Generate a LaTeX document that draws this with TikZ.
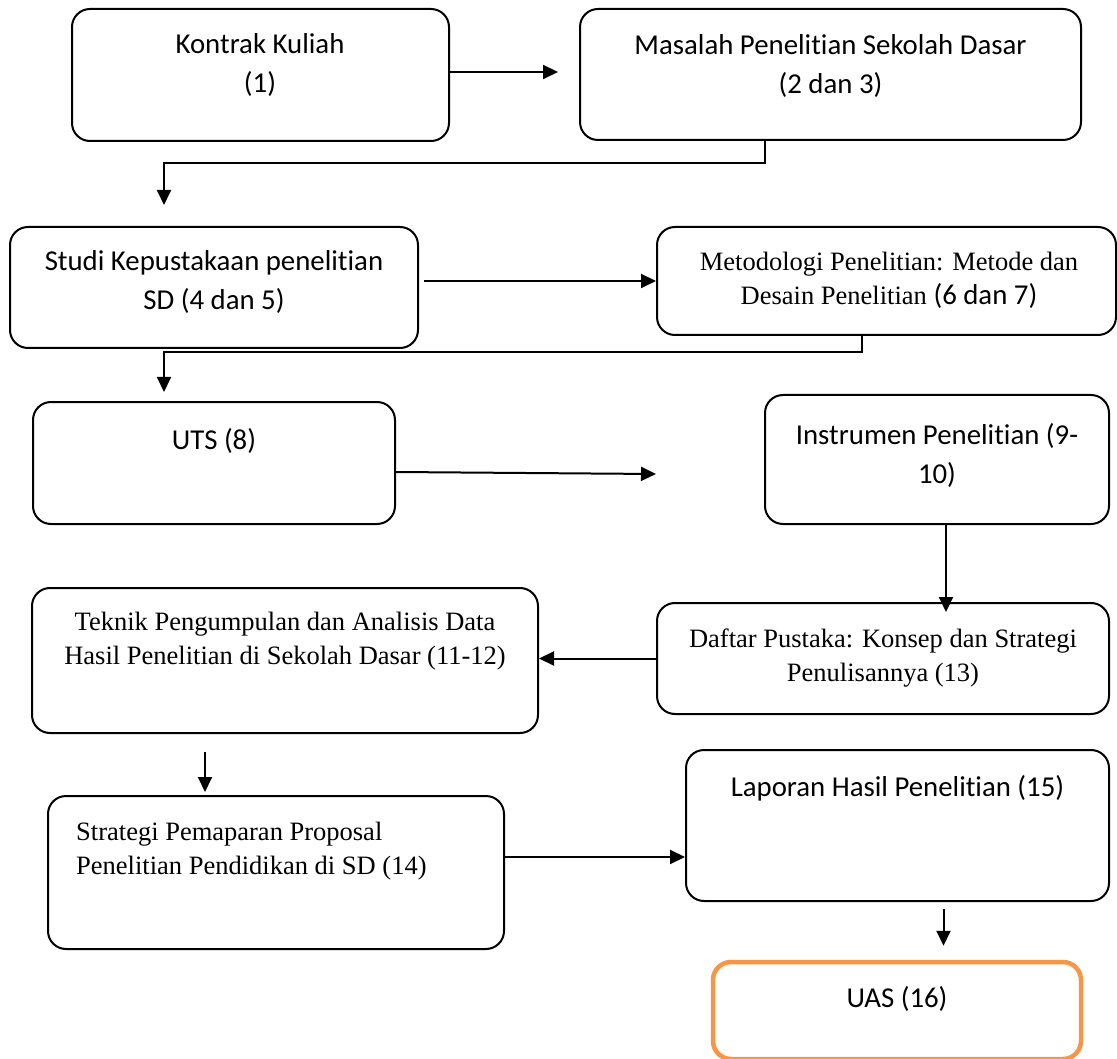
\documentclass[tikz,border=0pt]{standalone}
\usepackage{fontspec}
\setmainfont{Carlito}[Ligatures={NoCommon,NoContextual}, Contextuals=NoAlternate]
\newfontfamily\timesfont{Liberation Serif}
\usetikzlibrary{arrows.meta}

\definecolor{uasorange}{RGB}{247,150,70}

\tikzset{
  box/.style={draw, rounded corners=18pt, line width=2pt, inner sep=0pt},
  sans/.style={font=\fontsize{28.8}{39}\selectfont, align=center, inner sep=0pt},
  serif/.style={font=\timesfont\fontsize{26.5}{34}\selectfont, align=center, inner sep=0pt},
  arr/.style={line width=2pt, -{Triangle[length=15pt,width=14pt]}},
}

\begin{document}
\begin{tikzpicture}[x=1pt, y=-1pt]
\useasboundingbox (0,0) rectangle (1117,1059);

% Boxes
\node[box, minimum width=377pt, minimum height=132pt] (kontrak) at (260.5,75) {};
\node[box, minimum width=501pt, minimum height=131pt] (masalah) at (830.5,74.5) {};
\node[box, minimum width=408pt, minimum height=121pt] (studi) at (214,287.5) {};
\node[box, minimum width=459pt, minimum height=108pt] (metode) at (886.5,281) {};
\node[box, minimum width=362pt, minimum height=122pt] (uts) at (214,463) {};
\node[box, minimum width=344pt, minimum height=129pt] (instrumen) at (937,459.5) {};
\node[box, minimum width=452pt, minimum height=111pt] (daftar) at (883,658.5) {};
\node[box, minimum width=506pt, minimum height=145pt] (teknik) at (285,660.5) {};
\node[box, minimum width=456pt, minimum height=153pt] (strategi) at (276,872.5) {};
\node[box, minimum width=423pt, minimum height=151pt] (laporan) at (897.5,825.5) {};
\node[box, draw=uasorange, line width=4.5pt, minimum width=368pt, minimum height=97pt] (uas) at (897,1010.5) {};

% Texts
\node[sans] (kontrakTxt) at (260,65) {Kontrak Kuliah\\(1)};
\node[sans] (masalahTxt) at (830.5,66) {Masalah Penelitian Sekolah Dasar\\(2 dan 3)};
\node[sans] (studiTxt) at (214,282) {Studi Kepustakaan penelitian\\SD (4 dan 5)};
\node[serif] (metodeTxt) at (889,280) {Metodologi Penelitian: Metode dan\\Desain Penelitian {\normalfont\fontsize{28.8}{34}\selectfont(6 dan 7)}};
\node[sans] (utsTxt) at (214,441) {UTS (8)};
\node[sans] (instrumenTxt) at (937,455) {Instrumen Penelitian (9-\\10)};
\node[serif] (daftarTxt) at (883,658) {Daftar Pustaka: Konsep dan Strategi\\Penulisannya (13)};
\node[serif] (teknikTxt) at (285,641) {Teknik Pengumpulan dan Analisis Data\\Hasil Penelitian di Sekolah Dasar (11-12)};
\node[serif, anchor=west, align=left] (strategiTxt) at (76,851) {Strategi Pemaparan Proposal\\Penelitian Pendidikan di SD (14)};
\node[sans] (laporanTxt) at (897.5,788) {Laporan Hasil Penelitian (15)};
\node[sans] (uasTxt) at (897,999) {UAS (16)};

% Bends
\coordinate (bendA) at (765,163);
\coordinate (bendB) at (164,163);
\coordinate (bendC) at (862,352);
\coordinate (bendD) at (164,352);
\coordinate (utsTip) at (656,474);

% Arrows
\draw[arr, shorten >=21pt] ([yshift=3pt]kontrak.east) -- ([yshift=3pt]kontrak.east -| masalah.west);
\draw[arr, shorten >=21pt] (masalah.south -| bendA) -- (bendA) -| (studi.north -| bendB);
\draw[arr] ([xshift=5pt]studi.east |- metode.west) -- (metode.west);
\draw[arr, shorten >=9pt] (metode.south -| bendC) -- (bendC) -| (uts.north -| bendD);
\draw[arr] ([yshift=-9pt]uts.east) -- (utsTip);
\draw[arr, shorten >=-10pt] ([xshift=9pt]instrumen.south) -- ([xshift=9pt]instrumen.south |- daftar.north);
\draw[arr] (daftar.west) -- (teknik.east |- daftar.west);
\draw[arr, shorten <=18pt, shorten >=3pt] ([xshift=-80pt]teknik.south) -- ([xshift=-80pt]teknik.south |- strategi.north);
\draw[arr] ([yshift=15.5pt]strategi.east) -- ([yshift=15.5pt]strategi.east -| laporan.west);
\draw[arr, shorten <=7pt, shorten >=14pt] ([xshift=46pt]laporan.south) -- ([xshift=46pt]laporan.south |- uas.north);

\end{tikzpicture}
\end{document}
